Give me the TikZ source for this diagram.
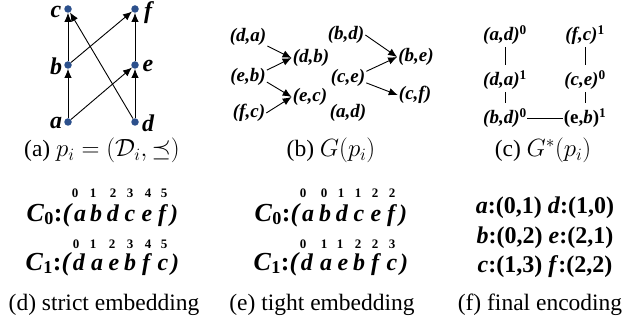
\documentclass[tikz,border=0pt]{standalone}
\usepackage{fontspec}
\setmainfont{Liberation Serif}
\usetikzlibrary{arrows.meta}
\definecolor{dotblue}{RGB}{44,80,140}
\tikzset{
  dot/.style={circle,fill=dotblue,inner sep=0pt,minimum size=7.5pt},
  arr/.style={-{Latex[length=9pt,width=7.5pt]},line width=0.9pt},
  vlab/.style={font=\fontsize{24}{28}\selectfont\bfseries\itshape,inner sep=0pt},
  plab/.style={font=\fontsize{19}{22}\selectfont\bfseries\itshape,inner sep=1pt},
  slab/.style={font=\fontsize{19}{22}\selectfont\bfseries\itshape,inner sep=0.5pt},
  capt/.style={font=\fontsize{23.5}{28}\selectfont,anchor=base,inner sep=0pt},
  seqf/.style={font=\fontsize{24}{28}\selectfont\bfseries,inner sep=0pt},
  lett/.style={seqf,anchor=base},
  pre/.style={font=\fontsize{26}{30}\selectfont\bfseries,inner sep=0pt,anchor=base east},
  post/.style={seqf,anchor=base west},
  enc/.style={seqf,anchor=base},
  num/.style={font=\fontsize{13}{15}\selectfont\bfseries,anchor=base,inner sep=0pt},
  pline/.style={line width=0.8pt},
}
\begin{document}
\begin{tikzpicture}[x=1pt,y=-1pt]
\useasboundingbox (0,0) rectangle (629,326);
% ---------- (a)
\node[dot] (c) at (68,9) {};
\node[dot] (f) at (135,9) {};
\node[dot] (b) at (68,65) {};
\node[dot] (e) at (135,65) {};
\node[dot] (a) at (68,122) {};
\node[dot] (d) at (135,122) {};
\node[vlab] (lc) at (56,12) {c};
\node[vlab] (lb) at (56,66) {b};
\node[vlab] (la) at (56,123) {a};
\node[vlab] (lf) at (148,13) {f};
\node[vlab] (le) at (148,66) {e};
\node[vlab] (ld) at (148,123) {d};
\draw[arr] (a) -- (b);
\draw[arr] (b) -- (c);
\draw[arr] (d) -- (e);
\draw[arr] (e) -- (f);
\draw[arr] (a) -- (e);
\draw[arr] (b) -- (f);
\draw[arr] (d) -- (c);
\node[capt] (capa) at (102,157) {(a) $p_i=(\mathcal{D}_i,\preceq)$};
% ---------- (b)
\node[plab] (da) at (248,37) {(d,a)};
\node[plab] (db) at (311,58) {(d,b)};
\node[plab] (eb) at (248,77) {(e,b)};
\node[plab] (ec) at (310,97) {(e,c)};
\node[plab] (fc) at (249,113) {(f,c)};
\node[plab] (bd) at (346,35) {(b,d)};
\node[plab] (be) at (416,57) {(b,e)};
\node[plab] (ce) at (348,78) {(c,e)};
\node[plab] (cf) at (415,95) {(c,f)};
\node[plab] (adb) at (348,113) {(a,d)};
\draw[arr] (da.-25) -- (db.west);
\draw[arr] (eb.20) -- (db.west);
\draw[arr] (eb.-15) -- (ec.west);
\draw[arr] (fc.east) -- (ec.west);
\draw[arr] (bd.east) -- (be.west);
\draw[arr] (ce.20) -- (be.west);
\draw[arr] (ce.-15) -- (cf.west);
\node[capt] (capb) at (331,157) {(b) $G(p_i)$};
% ---------- (c)
\node[slab] (s1) at (505,35) {(a,d)\textsuperscript{\upshape 0}};
\node[slab] (s2) at (585,35) {(f,c)\textsuperscript{\upshape 1}};
\node[slab] (s3) at (505,80) {(d,a)\textsuperscript{\upshape 1}};
\node[slab] (s4) at (585,80) {(c,e)\textsuperscript{\upshape 0}};
\node[slab] (s5) at (505,118) {(b,d)\textsuperscript{\upshape 0}};
\node[slab] (s6) at (585,118) {\upshape(e,\textit{b})\textsuperscript{1}};
\draw[pline,shorten <=2pt,shorten >=5pt] (s1) -- (s3);
\draw[pline,shorten <=2pt,shorten >=5pt] (s3) -- (s5);
\draw[pline,shorten <=2pt,shorten >=5pt] (s2) -- (s4);
\draw[pline,shorten <=2pt,shorten >=5pt] (s4) -- (s6);
\draw[pline] (s5.east) -- (s6.west);
\node[capt] (capc) at (543,157) {(c) $G^{*}(p_i)$};
% ---------- (d)
\node[pre] (dp0) at (73,221) {\textit{C}\textsubscript{0}:\textit{(}};
\foreach \x/\t [count=\i] in {80/a,96/b,113/d,130/c,147/e,163/f}
  \node[lett] (dl0\i) at (\x,221) {\textit{\t}};
\node[post] (dq0) at (170,221) {\textit{)}};
\node[pre] (dp1) at (72,270) {\textit{C}\textsubscript{1}:\textit{(}};
\foreach \x/\t [count=\i] in {79/d,97/a,114/e,130/b,147/f,163/c}
  \node[lett] (dl1\i) at (\x,270) {\textit{\t}};
\node[post] (dq1) at (171,270) {\textit{)}};
\foreach \x/\t [count=\i] in {75/0,93/1,113/2,130/3,148/4,164/5}
  \node[num] (dn0\i) at (\x,197) {\t};
\foreach \x/\t [count=\i] in {76/0,93/1,112/2,130/3,148/4,164/5}
  \node[num] (dn1\i) at (\x,248) {\t};
\node[capt] (capd) at (104,310) {(d) strict embedding};
% ---------- (e)
\node[pre] (ep0) at (301,221) {\textit{C}\textsubscript{0}:\textit{(}};
\foreach \x/\t [count=\i] in {308/a,325/b,342/d,359/c,376/e,392/f}
  \node[lett] (el0\i) at (\x,221) {\textit{\t}};
\node[post] (eq0) at (399,221) {\textit{)}};
\node[pre] (ep1) at (300,270) {\textit{C}\textsubscript{1}:\textit{(}};
\foreach \x/\t [count=\i] in {307/d,326/a,343/e,359/b,376/f,392/c}
  \node[lett] (el1\i) at (\x,270) {\textit{\t}};
\node[post] (eq1) at (400,270) {\textit{)}};
\foreach \x/\t [count=\i] in {303/0,324/0,341/1,358/1,375/2,392/2}
  \node[num] (en0\i) at (\x,197) {\t};
\foreach \x/\t [count=\i] in {303/0,324/1,340/1,358/2,375/2,392/3}
  \node[num] (en1\i) at (\x,248) {\t};
\node[capt] (cape) at (322,310) {(e) tight embedding};
% ---------- (f)
\node[enc] (f1) at (545,213) {\textit{a}:(0,1) \textit{d}:(1,0)};
\node[enc] (f2) at (545,243) {\textit{b}:(0,2) \textit{e}:(2,1)};
\node[enc] (f3) at (545,272) {\textit{c}:(1,3) \textit{f}:(2,2)};
\node[capt] (capf) at (540,310) {(f) final encoding};
\end{tikzpicture}
\end{document}
